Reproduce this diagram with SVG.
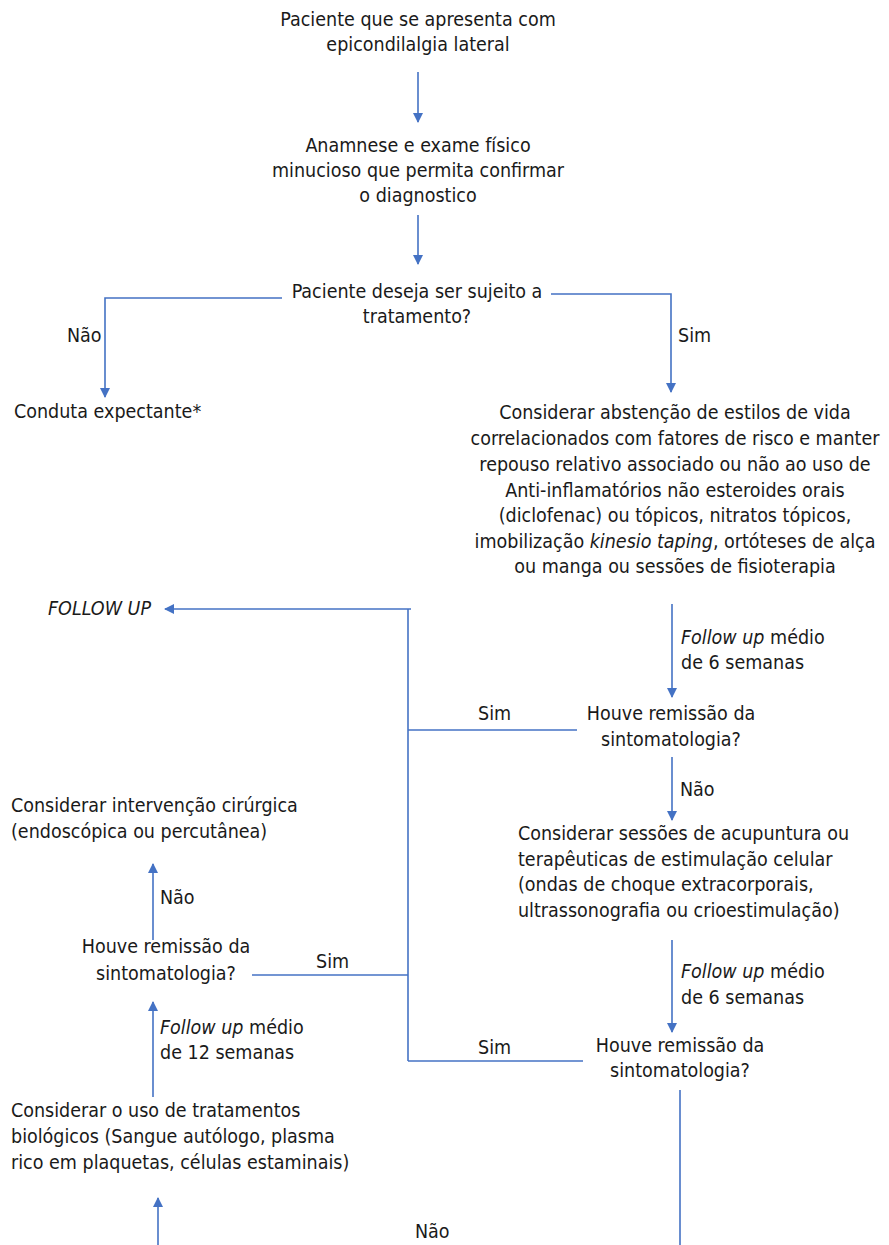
<svg xmlns="http://www.w3.org/2000/svg" width="889" height="1245" viewBox="0 0 889 1245">
<style>
text{font-family:"DejaVu Sans Condensed","DejaVu Sans",sans-serif;font-size:19.5px;fill:#1a1a1a}
.m{text-anchor:middle}
.i{font-style:italic}
.c{fill:none;stroke:#4472C4;stroke-width:1.6}
</style>
<defs>
<marker id="ah" viewBox="0 0 10 10" refX="9" refY="5" markerWidth="10" markerHeight="10" markerUnits="userSpaceOnUse" orient="auto">
<path d="M0,0 L10,5 L0,10 z" fill="#4472C4"/>
</marker>
</defs>
<rect width="889" height="1245" fill="#fff"/>
<g id="connectors">
<path class="c" d="M418,72 V122" marker-end="url(#ah)"/>
<path class="c" d="M418,215 V264" marker-end="url(#ah)"/>
<path class="c" d="M282,298 H105 V397" marker-end="url(#ah)"/>
<path class="c" d="M551,294 H671 V392" marker-end="url(#ah)"/>
<path class="c" d="M672,604 V697" marker-end="url(#ah)"/>
<path class="c" d="M577,730 H408"/>
<path class="c" d="M408,609 V1061"/>
<path class="c" d="M411,609 H165" marker-end="url(#ah)"/>
<path class="c" d="M672,757 V820" marker-end="url(#ah)"/>
<path class="c" d="M672,940 V1032" marker-end="url(#ah)"/>
<path class="c" d="M583,1061 H408"/>
<path class="c" d="M680,1090 V1245"/>
<path class="c" d="M252,975 H408"/>
<path class="c" d="M153,1097 V1002" marker-end="url(#ah)"/>
<path class="c" d="M153,940 V864" marker-end="url(#ah)"/>
<path class="c" d="M158,1245 V1198" marker-end="url(#ah)"/>
</g>
<g id="n1"><text class="m" x="418" y="26">Paciente que se apresenta com</text><text class="m" x="418" y="51">epicondilalgia lateral</text></g>
<g id="n2"><text class="m" x="418" y="152">Anamnese e exame físico</text><text class="m" x="418" y="177">minucioso que permita confirmar</text><text class="m" x="418" y="202">o diagnostico</text></g>
<g id="n3"><text class="m" x="417" y="298">Paciente deseja ser sujeito a</text><text class="m" x="417" y="323">tratamento?</text></g>
<g id="l-nao1"><text x="67" y="342">Não</text></g>
<g id="l-sim1"><text x="678" y="342">Sim</text></g>
<g id="n4"><text x="14" y="418">Conduta expectante*</text></g>
<g id="n5">
<text class="m" x="675" y="419">Considerar abstenção de estilos de vida</text>
<text class="m" x="675" y="445">correlacionados com fatores de risco e manter</text>
<text class="m" x="675" y="471">repouso relativo associado ou não ao uso de</text>
<text class="m" x="675" y="497">Anti-inflamatórios não esteroides orais</text>
<text class="m" x="675" y="522">(diclofenac) ou tópicos, nitratos tópicos,</text>
<text class="m" x="675" y="548">imobilização <tspan class="i">kinesio taping</tspan>, ortóteses de alça</text>
<text class="m" x="675" y="573">ou manga ou sessões de fisioterapia</text>
</g>
<g id="n6"><text class="i" x="48" y="615">FOLLOW UP</text></g>
<g id="l-fu1"><text x="681" y="644"><tspan class="i">Follow up</tspan> médio</text><text x="681" y="669">de 6 semanas</text></g>
<g id="n7"><text class="m" x="671" y="720">Houve remissão da</text><text class="m" x="671" y="746">sintomatologia?</text></g>
<g id="l-sim2"><text x="478" y="720">Sim</text></g>
<g id="l-nao2"><text x="680" y="796">Não</text></g>
<g id="n8">
<text x="518" y="840">Considerar sessões de acupuntura ou</text>
<text x="518" y="866">terapêuticas de estimulação celular</text>
<text x="518" y="891">(ondas de choque extracorporais,</text>
<text x="518" y="917">ultrassonografia ou crioestimulação)</text>
</g>
<g id="l-fu2"><text x="681" y="978"><tspan class="i">Follow up</tspan> médio</text><text x="681" y="1004">de 6 semanas</text></g>
<g id="n9"><text class="m" x="680" y="1052">Houve remissão da</text><text class="m" x="680" y="1077">sintomatologia?</text></g>
<g id="l-sim3"><text x="478" y="1054">Sim</text></g>
<g id="l-nao3"><text x="415" y="1238">Não</text></g>
<g id="n10">
<text x="11" y="1117">Considerar o uso de tratamentos</text>
<text x="11" y="1143">biológicos (Sangue autólogo, plasma</text>
<text x="11" y="1169">rico em plaquetas, células estaminais)</text>
</g>
<g id="l-fu3"><text x="160" y="1034"><tspan class="i">Follow up</tspan> médio</text><text x="160" y="1059">de 12 semanas</text></g>
<g id="n11"><text class="m" x="166" y="953">Houve remissão da</text><text class="m" x="166" y="980">sintomatologia?</text></g>
<g id="l-sim4"><text x="316" y="968">Sim</text></g>
<g id="l-nao4"><text x="160" y="904">Não</text></g>
<g id="n12"><text x="11" y="812">Considerar intervenção cirúrgica</text><text x="11" y="838">(endoscópica ou percutânea)</text></g>
</svg>
